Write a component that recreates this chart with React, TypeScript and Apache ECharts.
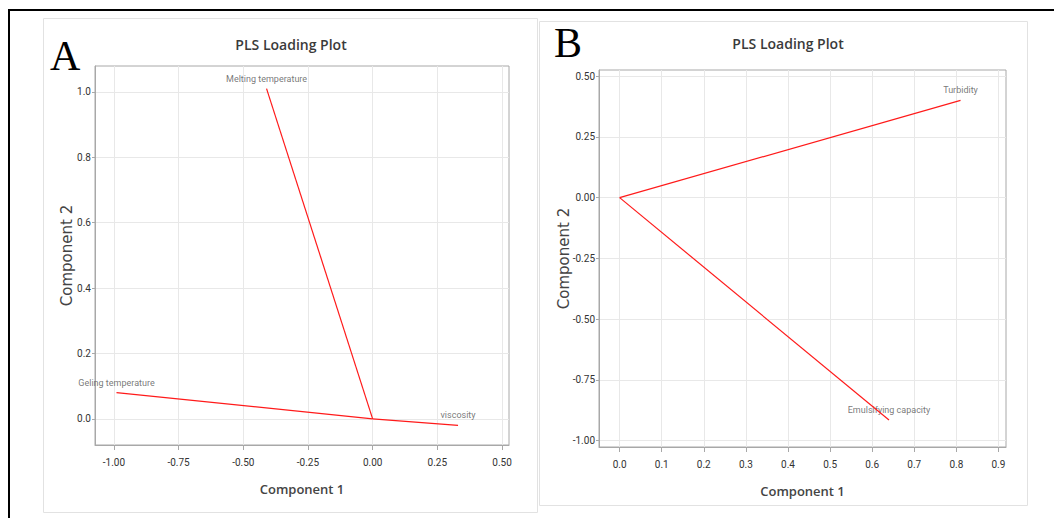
import React, { useEffect, useRef } from "react";
import * as echarts from "echarts";

// Panel A loadings
const namesA = ["Melting temperature", "Geling temperature", "viscosity"];
const comp1A = [-0.41, -0.99, 0.33];
const comp2A = [1.01, 0.08, -0.02];
const ticksAX = [-1.0, -0.75, -0.5, -0.25, 0.0, 0.25, 0.5];
const ticksAY = [0.0, 0.2, 0.4, 0.6, 0.8, 1.0];

// Panel B loadings
const namesB = ["Turbidity", "Emulsifying capacity"];
const comp1B = [0.81, 0.64];
const comp2B = [0.4, -0.915];
const ticksBX = [0.0, 0.1, 0.2, 0.3, 0.4, 0.5, 0.6, 0.7, 0.8, 0.9];
const ticksBY = [-1.0, -0.75, -0.5, -0.25, 0.0, 0.25, 0.5];

const title = "PLS Loading Plot";
const xName = "Component 1";
const yName = "Component 2";

const GRAY = "#a8a8a8";
const GRID = "#e8e8e8";
const TICKFONT = "'Liberation Sans Narrow', 'Roboto', sans-serif";

function xAxis(gridIndex: number, min: number, max: number, ticks: number[], digits: number) {
  return {
    type: "value",
    gridIndex,
    min,
    max,
    name: xName,
    nameLocation: "middle",
    nameGap: 37,
    nameMoveOverlap: false,
    nameTextStyle: { fontFamily: "'Open Sans', sans-serif", fontSize: 13, fontWeight: 600, color: "#444" },
    axisLine: { show: true, onZero: false, lineStyle: { color: GRAY, width: 1 } },
    axisTick: { show: true, length: 5, customValues: ticks, lineStyle: { color: GRAY } },
    axisLabel: {
      customValues: ticks,
      margin: 12,
      fontFamily: TICKFONT,
      fontSize: 10,
      color: "#333",
      formatter: (v: number) => v.toFixed(digits),
    },
    splitLine: { show: true, lineStyle: { color: GRID, width: 1 } },
  };
}

function yAxis(gridIndex: number, min: number, max: number, ticks: number[], digits: number, gap: number) {
  return {
    type: "value",
    gridIndex,
    min,
    max,
    name: yName,
    nameLocation: "middle",
    nameRotate: 90,
    nameGap: gap,
    nameMoveOverlap: false,
    nameTextStyle: { fontFamily: "'DejaVu Sans', sans-serif", fontSize: 15, color: "#444" },
    axisLine: { show: true, onZero: false, lineStyle: { color: GRAY, width: 1 } },
    axisTick: { show: true, length: 3, customValues: ticks, lineStyle: { color: GRAY } },
    axisLabel: {
      customValues: ticks,
      margin: 4,
      fontFamily: TICKFONT,
      fontSize: 10,
      color: "#333",
      formatter: (v: number) => v.toFixed(digits),
    },
    splitLine: { show: true, lineStyle: { color: GRID, width: 1 } },
  };
}

function loadingSeries(names: string[], c1: number[], c2: number[], axisIndex: number) {
  const lines = names.map((n, i) => ({
    type: "line",
    name: n,
    xAxisIndex: axisIndex,
    yAxisIndex: axisIndex,
    data: [
      [0, 0],
      [c1[i], c2[i]],
    ],
    showSymbol: false,
    symbol: "none",
    lineStyle: { color: "#ff1a1a", width: 1.2 },
    silent: true,
  }));
  const labels = {
    type: "scatter",
    xAxisIndex: axisIndex,
    yAxisIndex: axisIndex,
    symbolSize: 1,
    itemStyle: { color: "rgba(0,0,0,0)" },
    data: names.map((n, i) => ({ name: n, value: [c1[i], c2[i]] })),
    label: {
      show: true,
      position: "top",
      distance: 5,
      formatter: "{b}",
      fontFamily: "'Roboto', sans-serif",
      fontSize: 9,
      color: "#555",
    },
    silent: true,
  };
  return [...lines, labels];
}

export default function App() {
  const ref = useRef<HTMLDivElement>(null);
  useEffect(() => {
    if (!ref.current) return;
    const chart = echarts.init(ref.current, undefined, { renderer: "svg" });
    const titleStyle = { fontFamily: "'Open Sans', sans-serif", fontSize: 14, fontWeight: 600, color: "#3a3a3a" };
    chart.setOption({
      animation: false,
      backgroundColor: "#ffffff",
      title: [
        { text: title, left: 286, top: 32, textAlign: "center", textStyle: titleStyle },
        { text: title, left: 783, top: 31, textAlign: "center", textStyle: titleStyle },
      ],
      graphic: [
        {
          type: "rect",
          z: -10,
          shape: { x: 43.5, y: 18.5, width: 494, height: 494 },
          style: { fill: "#fff", stroke: "#e2e2e2", lineWidth: 1 },
          silent: true,
        },
        {
          type: "rect",
          z: -10,
          shape: { x: 539.5, y: 21.5, width: 488, height: 484 },
          style: { fill: "#fff", stroke: "#e2e2e2", lineWidth: 1 },
          silent: true,
        },
        {
          type: "rect",
          z: 100,
          shape: { x: 9, y: 10, width: 1100, height: 600 },
          style: { fill: "none", stroke: "#000", lineWidth: 2 },
          silent: true,
        },
        {
          type: "text",
          x: 50,
          y: 56,
          style: {
            text: "A",
            font: "42px 'Liberation Serif', serif",
            fill: "#000",
            textAlign: "left",
            textVerticalAlign: "middle",
          },
          silent: true,
        },
        {
          type: "text",
          x: 554,
          y: 43,
          style: {
            text: "B",
            font: "42px 'Liberation Serif', serif",
            fill: "#000",
            textAlign: "left",
            textVerticalAlign: "middle",
          },
          silent: true,
        },
      ],
      grid: [
        { left: 95, top: 66, width: 414, height: 379, show: true, borderColor: GRAY, borderWidth: 1, backgroundColor: "transparent" },
        { left: 599, top: 70, width: 407, height: 377, show: true, borderColor: GRAY, borderWidth: 1, backgroundColor: "transparent" },
      ],
      xAxis: [xAxis(0, -1.073, 0.527, ticksAX, 2), xAxis(1, -0.049, 0.918, ticksBX, 1)],
      yAxis: [yAxis(0, -0.08, 1.079, ticksAY, 1, 21), yAxis(1, -1.026, 0.525, ticksBY, 2, 28)],
      series: [...loadingSeries(namesA, comp1A, comp2A, 0), ...loadingSeries(namesB, comp1B, comp2B, 1)],
    });
    return () => chart.dispose();
  }, []);
  return <div ref={ref} style={{ position: "fixed", left: 0, top: 0, width: 1054, height: 518 }} />;
}
